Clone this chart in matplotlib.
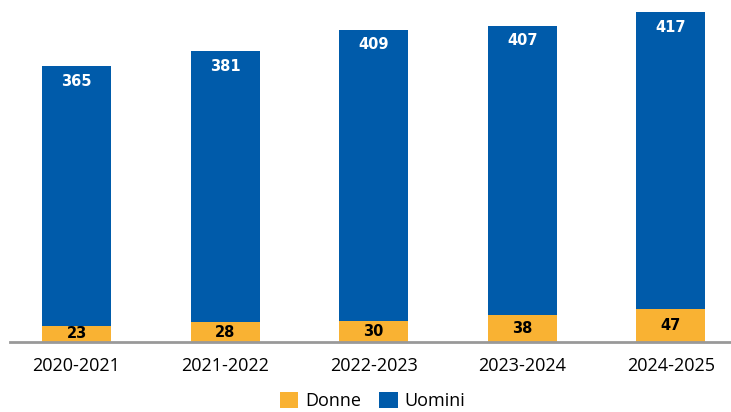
import matplotlib.pyplot as plt
import numpy as np

anni = ['2020-2021', '2021-2022', '2022-2023', '2023-2024', '2024-2025']
donne = [23, 28, 30, 38, 47]
uomini = [365, 381, 409, 407, 417]

col_donne = '#F9B233'
col_uomini = '#005BAA'

plt.rcParams['font.family'] = ['Open Sans', 'DejaVu Sans']

fig = plt.figure(figsize=(7.31, 4.12), dpi=100)
ax = fig.add_axes([10 / 731, 70 / 412, 721 / 731, 342 / 412])

x = np.arange(len(anni))
w = 0.465
ax.bar(x, donne, w, color=col_donne, label='Donne', zorder=2)
ax.bar(x, uomini, w, bottom=donne, color=col_uomini, label='Uomini', zorder=2)

for i in range(len(anni)):
    ax.text(x[i], donne[i] / 2, str(donne[i]), ha='center', va='center',
            fontsize=10.5, fontweight='bold', color='black', family='DejaVu Sans')
    ax.text(x[i], donne[i] + uomini[i] - 21, str(uomini[i]), ha='center', va='center',
            fontsize=10.5, fontweight='bold', color='white', family='DejaVu Sans')

ax.set_xlim(-0.448, 4.405)
ax.set_ylim(0, 481)
ax.set_xticks(x)
ax.set_xticklabels(anni, fontsize=13)
ax.tick_params(axis='x', length=0, pad=11)
ax.set_yticks([])
for s in ['top', 'right', 'left']:
    ax.spines[s].set_visible(False)
ax.spines['bottom'].set_color('#999999')
ax.spines['bottom'].set_linewidth(2)

fig.legend(loc='lower center', bbox_to_anchor=(0.51, -0.035), ncol=2, frameon=False,
           fontsize=13, handlelength=1.0, handleheight=1.0, handletextpad=0.4,
           columnspacing=1.0)

plt.savefig('out.png', dpi=100)
